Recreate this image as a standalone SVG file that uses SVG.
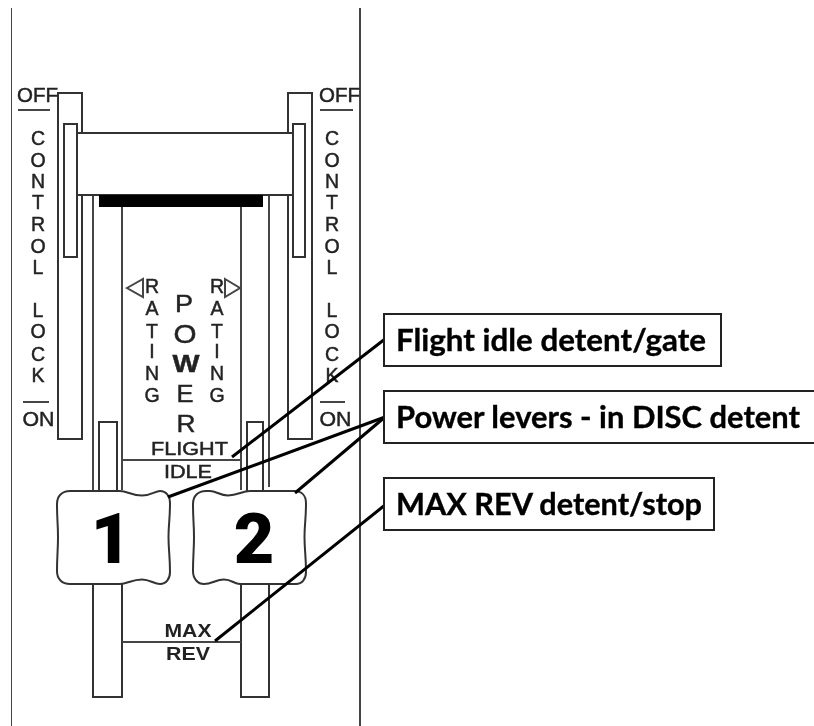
<svg xmlns="http://www.w3.org/2000/svg" width="814" height="726" viewBox="0 0 814 726">
<defs>
<style>
.s{fill:#fff;stroke:#333;stroke-width:2}
.n{fill:none;stroke:#444;stroke-width:2}
.t{font-family:"Liberation Sans",Arial,sans-serif;fill:#222;stroke:#222;stroke-width:.45;text-anchor:middle}
.v{font-size:19.500px}
.r{font-size:19.500px}
.m{font-size:24px}
.sm{font-size:18px}
.c{fill:none;stroke:#000;stroke-width:3}
.b{fill:#fff;stroke:#222;stroke-width:2}
.l{font-family:Lato,"Open Sans",sans-serif;font-weight:700;font-size:30px;fill:#000;stroke:#000;stroke-width:.35}
.d{font-family:Roboto,"Liberation Sans",sans-serif;font-weight:900;font-size:70px;fill:#000;text-anchor:middle}
</style>
<filter id="soft" x="0" y="0" width="100%" height="100%"><feGaussianBlur stdDeviation="0.5"/></filter>
</defs>
<rect width="814" height="726" fill="#fff"/>
<g filter="url(#soft)">
<g id="panel"><path class="n" d="M11 8V726M360 8V726"/></g>
<g id="left-slot">
<rect class="s" x="58" y="93" width="24" height="346"/>
</g>
<g id="right-slot">
<rect class="s" x="288" y="93" width="24" height="346"/>
</g>
<g id="tracks"><path class="n" d="M93 195V492M122 207V490M241 207V490M269 195V487M122 460H241"/></g>
<g id="crossbar">
<rect class="s" x="77" y="133" width="216" height="62"/>
<rect x="99" y="195" width="164" height="12" fill="#000"/>
</g>
<g id="left-inner"><rect class="s" x="64" y="124" width="13" height="133"/></g>
<g id="right-inner"><rect class="s" x="293" y="124" width="12" height="133"/></g>
<g id="left-stem"><rect class="s" x="99" y="422" width="18" height="72"/></g>
<g id="right-stem"><rect class="s" x="247" y="422" width="16" height="72"/></g>
<g id="lower-tracks"><path class="s" d="M93 580V697H122V580"/><path class="s" d="M241 580V697H269V580"/><path class="n" d="M122 642H241"/></g>

<g id="off-left">
<text class="t" x="37.500" y="102" style="font-size:20px" textLength="41" lengthAdjust="spacingAndGlyphs">OFF</text>
<path class="n" d="M18 110H50"/>
</g>
<g id="off-right">
<text class="t" x="339.500" y="102" style="font-size:20px" textLength="41" lengthAdjust="spacingAndGlyphs">OFF</text>
<path class="n" d="M320 110H353"/>
</g>
<g id="control-lock-left" class="t v">
<text x="38" y="145">C</text><text x="38" y="167">O</text><text x="38" y="188">N</text><text x="38" y="209">T</text><text x="38" y="231">R</text><text x="38" y="253">O</text><text x="38" y="274">L</text>
<text x="38" y="317">L</text><text x="38" y="338">O</text><text x="38" y="361">C</text><text x="38" y="382">K</text>
</g>
<g id="control-lock-right" class="t v">
<text x="332" y="145">C</text><text x="332" y="167">O</text><text x="332" y="188">N</text><text x="332" y="209">T</text><text x="332" y="231">R</text><text x="332" y="253">O</text><text x="332" y="274">L</text>
<text x="332" y="317">L</text><text x="332" y="338">O</text><text x="332" y="361">C</text><text x="332" y="382">K</text>
</g>
<g id="on-left">
<path class="n" d="M23 402H49"/>
<text class="t" x="38.500" y="426" style="font-size:20px" textLength="32" lengthAdjust="spacingAndGlyphs">ON</text>
</g>
<g id="on-right">
<path class="n" d="M320 402H345"/>
<text class="t" x="335.500" y="426" style="font-size:20px" textLength="32" lengthAdjust="spacingAndGlyphs">ON</text>
</g>
<g id="rating-left" class="t r">
<text x="152" y="293">R</text><text x="152" y="315">A</text><text x="152" y="338">T</text><text x="152" y="358">I</text><text x="152" y="380">N</text><text x="152" y="402">G</text>
<path class="n" d="M127 288L143 279V297Z"/>
</g>
<g id="rating-right" class="t r">
<text x="217" y="293">R</text><text x="217" y="315">A</text><text x="217" y="338">T</text><text x="217" y="358">I</text><text x="217" y="380">N</text><text x="217" y="402">G</text>
<path class="n" d="M225 279L240 288L225 297Z"/>
</g>
<g id="power" class="t m">
<text x="184" y="312" textLength="18" lengthAdjust="spacingAndGlyphs">P</text><text x="185" y="343" style="font-size:25px" textLength="23" lengthAdjust="spacingAndGlyphs">O</text><text x="186" y="372" style="font-weight:700" textLength="27" lengthAdjust="spacingAndGlyphs">W</text><text x="185" y="402" textLength="17" lengthAdjust="spacingAndGlyphs">E</text><text x="186" y="432" textLength="19" lengthAdjust="spacingAndGlyphs">R</text>
</g>
<g id="flight-idle" class="t sm">
<text x="189.500" y="455" textLength="77" lengthAdjust="spacingAndGlyphs">FLIGHT</text>
<text x="188" y="478" textLength="48" lengthAdjust="spacingAndGlyphs">IDLE</text>
</g>
<g id="max-rev" class="t sm" style="font-weight:700;stroke-width:0">
<text x="188" y="637" textLength="47" lengthAdjust="spacingAndGlyphs">MAX</text>
<text x="188" y="660" textLength="44" lengthAdjust="spacingAndGlyphs">REV</text>
</g>
<g id="lever-1">
<path class="s" d="M70 491H120C127 491 132 495.500 142 495.500C152 495.500 155 491 160 491C166 491 170 496 170 503C170 520 168.500 524 168.500 537C168.500 550 170 556 170 572C170 579 166 584 160 584C154 584 150 579.500 142 579.500C132 579.500 127 584 120 584H70C62 584 57 579 57 571C57 556 58 550 58 537C58 524 57 520 57 504C57 496 62 491 70 491Z"/>
<text class="d" x="111" y="563">1</text>
</g>
<g id="lever-2">
<path class="s" d="M206 491H210C216 491 220 495.500 228 495.500C238 495.500 242 491 250 491H294C302 491 306 496 306 503C306 520 304.500 524 304.500 537C304.500 550 306 556 306 572C306 579 302 584 296 584H240C234 584 232 579.500 224 579.500C216 579.500 212 584 204 584C198 584 193 579 193 571C193 556 194 550 194 537C194 524 193 520 193 504C193 496 198 491 206 491Z"/>
<text class="d" x="254" y="563">2</text>
</g>
<g id="connectors">
<path class="c" d="M232 457L385 339"/>
<path class="c" d="M168 497L385 417"/>
<path class="c" d="M295 493L385 417"/>
<path class="c" d="M215 641L385 505"/>
</g>
<g id="label-flight-idle">
<rect class="b" x="384" y="314" width="337" height="52"/>
<text class="l" x="396" y="351" textLength="310" lengthAdjust="spacingAndGlyphs">Flight idle detent/gate</text>
</g>
<g id="label-power-levers">
<rect class="b" x="384" y="391" width="440" height="52"/>
<text class="l" x="396" y="428" textLength="404" lengthAdjust="spacingAndGlyphs">Power levers - in DISC detent</text>
</g>
<g id="label-max-rev">
<rect class="b" x="384" y="478" width="330" height="52"/>
<text class="l" x="396" y="515" textLength="306" lengthAdjust="spacingAndGlyphs">MAX REV detent/stop</text>
</g>
</g>
</svg>
